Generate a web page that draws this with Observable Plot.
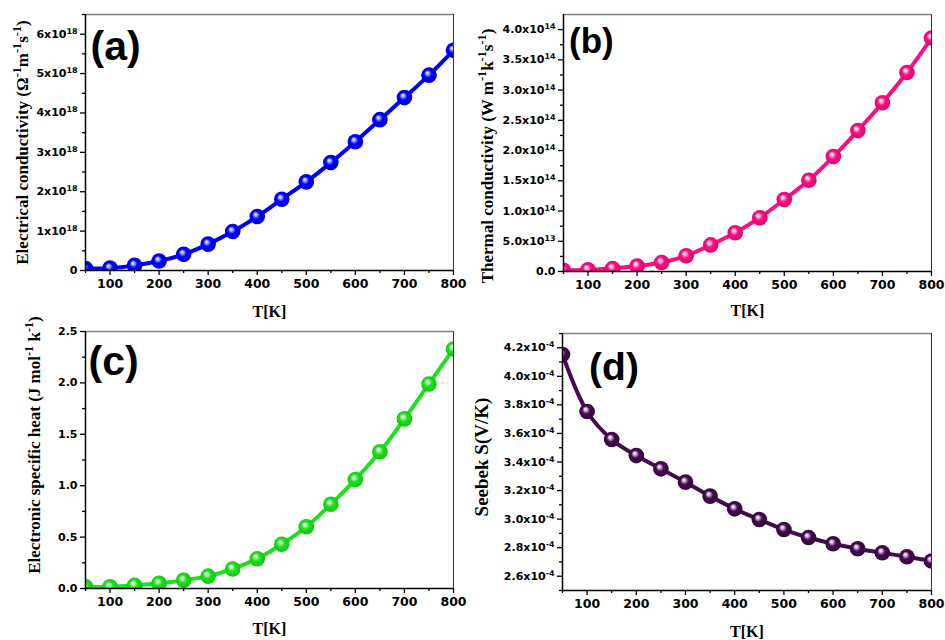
<!DOCTYPE html>
<html><head><meta charset="utf-8">
<script src="https://cdn.jsdelivr.net/npm/d3@7"></script>
<script src="https://cdn.jsdelivr.net/npm/@observablehq/plot@0.6"></script>
<style>
body{margin:0;background:#fff;}
#fig{position:relative;width:945px;height:640px;overflow:hidden;background:#fff;}
#fig svg{position:absolute;}
</style></head><body><div id="fig"></div>
<script>
// ---- data ----
const temperature = [50,100,150,200,250,300,350,400,450,500,550,600,650,700,750,800];
const electricalConductivity = [0.05e18,0.06e18,0.13e18,0.24e18,0.41e18,0.67e18,0.99e18,1.37e18,1.81e18,2.25e18,2.74e18,3.27e18,3.83e18,4.39e18,4.96e18,5.59e18];
const thermalConductivity = [0.02e14,0.03e14,0.05e14,0.09e14,0.15e14,0.26e14,0.44e14,0.64e14,0.89e14,1.19e14,1.51e14,1.90e14,2.33e14,2.79e14,3.29e14,3.86e14];
const specificHeat = [0.016,0.016,0.03,0.05,0.08,0.12,0.19,0.29,0.43,0.60,0.82,1.06,1.33,1.65,1.99,2.33];
const seebeck = [4.153e-4,3.754e-4,3.558e-4,3.445e-4,3.352e-4,3.259e-4,3.161e-4,3.072e-4,2.997e-4,2.927e-4,2.871e-4,2.827e-4,2.792e-4,2.764e-4,2.736e-4,2.707e-4];

const xTicks = [100,200,300,400,500,600,700,800];
const xMinorTicks = [50,150,250,350,450,550,650,750];
const yTicksA = [0,1e18,2e18,3e18,4e18,5e18,6e18];
const yLabelsA = ["0","1x10¹⁸","2x10¹⁸","3x10¹⁸","4x10¹⁸","5x10¹⁸","6x10¹⁸"];
const yTicksB = [0,0.5e14,1.0e14,1.5e14,2.0e14,2.5e14,3.0e14,3.5e14,4.0e14];
const yLabelsB = ["0.0","5.0x10¹³","1.0x10¹⁴","1.5x10¹⁴","2.0x10¹⁴","2.5x10¹⁴","3.0x10¹⁴","3.5x10¹⁴","4.0x10¹⁴"];
const yTicksC = [0,0.5,1.0,1.5,2.0,2.5];
const yLabelsC = ["0.0","0.5","1.0","1.5","2.0","2.5"];
const yTicksD = [2.6e-4,2.8e-4,3.0e-4,3.2e-4,3.4e-4,3.6e-4,3.8e-4,4.0e-4,4.2e-4];
const yLabelsD = ["2.6x10⁻⁴","2.8x10⁻⁴","3.0x10⁻⁴","3.2x10⁻⁴","3.4x10⁻⁴","3.6x10⁻⁴","3.8x10⁻⁴","4.0x10⁻⁴","4.2x10⁻⁴"];

const sans = "'DejaVu Sans', Verdana, sans-serif";
const serif = "'Liberation Serif', 'Times New Roman', serif";
const tagFont = "'Liberation Sans', Arial, sans-serif";

function minorBetween(ticks){
  const out = [];
  for (let i = 0; i < ticks.length - 1; i++) out.push((ticks[i] + ticks[i+1]) / 2);
  return out;
}

// turn unicode superscript runs into real superscript tspans
const supMap = {"⁰":"0","¹":"1","²":"2","³":"3","⁴":"4","⁵":"5","⁶":"6","⁷":"7","⁸":"8","⁹":"9","⁻":"-"};
function fixSuperscripts(svg){
  d3.select(svg).selectAll("text").each(function(){
    const t = this.textContent;
    if (![...t].some(c => c in supMap)) return;
    const runs = [];
    for (const c of t) {
      const s = c in supMap, ch = s ? supMap[c] : c;
      if (runs.length && runs[runs.length-1].s === s) runs[runs.length-1].t += ch;
      else runs.push({s, t: ch});
    }
    this.textContent = "";
    for (const r of runs) {
      const ts = d3.select(this).append("tspan").text(r.t);
      if (r.s) ts.attr("font-size", "72%").attr("baseline-shift", "super");
    }
  });
}

function panel(cfg){
  const data = temperature.map((t, i) => ({t, v: cfg.values[i]}));
  const [y0, y1] = cfg.yDomain;
  const fmt = d => { const i = cfg.yTicks.findIndex(v => Math.abs(v - d) <= Math.abs(d) * 1e-9 + 1e-30); return i >= 0 ? cfg.yLabels[i] : ""; };
  const m = cfg.margin;
  const svg = Plot.plot({
    width: cfg.width, height: cfg.height,
    marginLeft: m[0], marginRight: m[1], marginTop: m[2], marginBottom: m[3],
    x: {domain: [50, 800]},
    y: {domain: cfg.yDomain},
    style: {background: "transparent", color: "#000", overflow: "visible"},
    marks: [
      Plot.ruleY([y1], {stroke: "#808080", strokeWidth: 1.5}),
      Plot.ruleX([800], {stroke: "#333", strokeWidth: 1}),
      Plot.line(data, {x: "t", y: "v", stroke: cfg.color, strokeWidth: 4, curve: "catmull-rom", clip: true}),
      Plot.dot(data, {x: "t", y: "v", r: 7.8, fill: `url(#${cfg.id})`, stroke: "none", clip: true}),
      Plot.axisX({ticks: xTicks, tickSize: 5, tickPadding: 4, fontSize: 12.5, fontFamily: sans, fontWeight: "bold", label: null, strokeWidth: 1.3}),
      Plot.axisX({ticks: xMinorTicks, tickSize: 3, tickFormat: () => "", label: null, strokeWidth: 1.3}),
      Plot.axisY({ticks: cfg.yTicks, tickSize: 5, tickPadding: 3, tickFormat: fmt, fontSize: 11, fontFamily: sans, fontWeight: "bold", label: null, strokeWidth: 1.3}),
      Plot.axisY({ticks: minorBetween(cfg.yTicks).concat(cfg.yMinorExtra || []), tickSize: 3, tickFormat: () => "", label: null, strokeWidth: 1.3}),
      Plot.ruleY([y0], {stroke: "#000", strokeWidth: 1.5}),
      Plot.ruleX([50], {stroke: "#000", strokeWidth: 1.5}),
      Plot.text([cfg.yTitle], {text: d => d, frameAnchor: "left", textAnchor: "middle", lineAnchor: "middle", rotate: -90, dx: cfg.yTitlePos[0], dy: cfg.yTitlePos[1], fontFamily: serif, fontWeight: "bold", fontSize: cfg.yTitleSize || 17, fill: "#000"}),
      Plot.text(["T[K]"], {text: d => d, frameAnchor: "bottom", textAnchor: "middle", lineAnchor: "middle", dy: cfg.xTitleDy, fontFamily: serif, fontWeight: "bold", fontSize: 16, fill: "#000"}),
      Plot.text([cfg.tag], {text: d => d, frameAnchor: "top-left", textAnchor: "start", lineAnchor: "middle", dx: cfg.tagPos[0], dy: cfg.tagPos[1], fontFamily: tagFont, fontWeight: "bold", fontSize: cfg.tagSize, fill: "#000"})
    ]
  });
  fixSuperscripts(svg);
  const defs = d3.select(svg).insert("defs", ":first-child");
  const g = defs.append("radialGradient").attr("id", cfg.id)
    .attr("cx", "50%").attr("cy", "50%").attr("r", "55%").attr("fx", "38%").attr("fy", "34%");
  g.append("stop").attr("offset", "0%").attr("stop-color", "#ffffff");
  g.append("stop").attr("offset", "18%").attr("stop-color", cfg.light);
  g.append("stop").attr("offset", "45%").attr("stop-color", cfg.color);
  g.append("stop").attr("offset", "100%").attr("stop-color", cfg.dark);
  svg.style.left = cfg.left + "px";
  svg.style.top = cfg.top + "px";
  document.getElementById("fig").appendChild(svg);
}

panel({id: "gA", left: 0, top: 0, width: 472, height: 318, margin: [85, 19, 14, 48],
  values: electricalConductivity, yDomain: [0, 6.5e18], yTicks: yTicksA, yLabels: yLabelsA, yMinorExtra: [6.5e18],
  color: "#0000ff", light: "#a8a8ff", dark: "#0000d8",
  yTitle: "Electrical conductivity (Ω⁻¹m⁻¹s⁻¹)", yTitlePos: [-62.5, 0], xTitleDy: 41,
  tag: "(a)", tagPos: [5, 32], tagSize: 41});

panel({id: "gB", left: 470, top: 0, width: 475, height: 318, margin: [93, 14, 14, 47],
  values: thermalConductivity, yDomain: [0, 4.25e14], yTicks: yTicksB, yLabels: yLabelsB,
  color: "#fa0f82", light: "#ffb8d8", dark: "#e0006c",
  yTitle: "Thermal conductivity (W m⁻¹k⁻¹s⁻¹)", yTitlePos: [-76, 13], xTitleDy: 39.5,
  tag: "(b)", tagPos: [5.5, 27.7], tagSize: 35});

panel({id: "gC", left: 0, top: 318, width: 472, height: 322, margin: [85, 19, 13, 52],
  values: specificHeat, yDomain: [0, 2.5], yTicks: yTicksC, yLabels: yLabelsC,
  color: "#1ee01e", light: "#b8f5b8", dark: "#10c010",
  yTitle: "Electronic specific heat (J mol⁻¹ k⁻¹)", yTitlePos: [-50.5, -15], xTitleDy: 40,
  tag: "(c)", tagPos: [3, 30.7], tagSize: 41});

panel({id: "gD", left: 470, top: 318, width: 475, height: 322, margin: [92, 14, 15, 50],
  values: seebeck, yDomain: [2.5e-4, 4.3e-4], yTicks: yTicksD, yLabels: yLabelsD, yMinorExtra: [2.5e-4, 4.3e-4],
  color: "#450a4f", light: "#d0b8d8", dark: "#32063a",
  yTitle: "Seebek S(V/K)", yTitlePos: [-80.5, -5], yTitleSize: 19, xTitleDy: 41,
  tag: "(d)", tagPos: [26.6, 34.5], tagSize: 39});
</script>
</body></html>
